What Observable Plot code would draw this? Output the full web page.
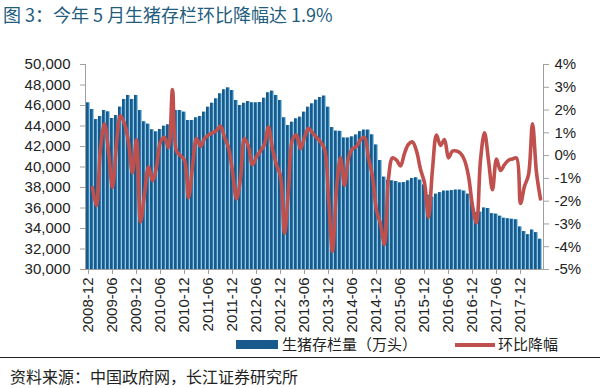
<!DOCTYPE html>
<html>
<head>
<meta charset="utf-8">
<script src="https://cdn.jsdelivr.net/npm/d3@7"></script>
<script src="https://cdn.jsdelivr.net/npm/@observablehq/plot@0.6"></script>
<style>
  html, body { margin: 0; padding: 0; background: #fff; }
  #wrap { position: relative; width: 600px; height: 388px; overflow: hidden; font-family: "Liberation Sans", Arial, "Noto Sans CJK SC", sans-serif; }
  #title { position: absolute; left: 3px; top: 2px; font-size: 18px; color: #235d7e; font-family: "Noto Sans CJK SC", sans-serif; white-space: nowrap; line-height: 24px; }
  #chart { position: absolute; left: 0; top: 30px; }
  .leg { position: absolute; font-size: 15px; color: #222; font-family: "Noto Sans CJK SC", sans-serif; white-space: nowrap; line-height: 18px; }
  #rule { position: absolute; left: 0; top: 357px; width: 600px; height: 1px; background: #222; }
  #source { position: absolute; left: 10px; top: 366px; font-size: 16px; color: #222; font-family: "Noto Sans CJK SC", sans-serif; white-space: nowrap; line-height: 20px; }
</style>
</head>
<body>
<div id="wrap">
  <div id="title">图 3：今年 5 月生猪存栏环比降幅达 1.9%</div>
  <div id="chart"></div>
  <div class="leg" style="left:236px; top:340px; width:42px; height:9px; background:#195a8c;"></div>
  <div class="leg" style="left:282px; top:335px;">生猪存栏量（万头）</div>
  <div class="leg" style="left:455px; top:343px; width:40px; height:4px; background:#c0504d;"></div>
  <div class="leg" style="left:498px; top:335px;">环比降幅</div>
  <div id="rule"></div>
  <div id="source">资料来源：中国政府网，长江证券研究所</div>
</div>
<script>
// Categories: monthly, 2008-12 … 2018-05
const months = d3.utcMonth.range(new Date(Date.UTC(2008, 11, 1)), new Date(Date.UTC(2018, 5, 1))).map(d3.utcFormat("%Y-%m"));

// 生猪存栏量（万头）, 2008-12 … 2018-05
const stock = [
  46260, 45610, 44630, 44930, 45510, 45380, 44730, 45020, 45840, 46590, 46980, 46590,
  46980, 45510, 44410, 44180, 43630, 43430, 43660, 43980, 44110, 45400, 45510, 45510,
  45350, 44540, 44540, 44800, 44930, 45350, 45830, 46220, 46650, 47140, 47530, 47720,
  47460, 46490, 46000, 46220, 46390, 46260, 46260, 46290, 46710, 47240, 47400, 46980,
  46490, 44800, 44050, 44370, 44700, 44860, 45350, 45830, 46160, 46520, 46780, 46920,
  45830, 43850, 43500, 43480, 42830, 42830, 42940, 43120, 43450, 43600, 43600, 43140,
  42150, 40630, 39010, 38700, 38650, 38580, 38450, 38480, 38650, 38880, 38950, 38720,
  38250, 37250, 37050, 37350, 37500, 37650, 37650, 37700, 37750, 37750, 37650, 37350,
  36550, 35550, 35600, 36000, 35950, 35450, 35400, 35200, 35000, 34950, 34900, 34850,
  34150, 33700, 33400, 33850, 33600, 32950
];

// 环比降幅 (%), 2009-01 … 2018-05
const momChange = [
  -1.4, -2.2, 0.3, 1.4, 0.2, -1.4, 0.5, 1.75, 1.4, 0.6, -0.75,
  0.7, -2.9, -1.7, -0.5, -1.1, -0.5, 0.6, 0.8, 0.35, 2.9, 0.2, 0.0,
  -0.2, -1.85, -0.5, 0.75, 0.4, 0.75, 0.9, 1.0, 1.1, 1.3, 0.8, 0.35,
  -0.7, -1.9, -1.0, 0.75, 0.4, -0.4, -0.05, 0.2, 0.5, 1.25, 0.3, -0.4,
  -0.9, -3.4, -1.5, 0.7, 0.9, 0.3, 0.8, 1.2, 1.0, 0.8, 0.6, 0.3,
  -1.8, -4.2, -1.5, -0.1, -1.3, -0.1, 0.3, 0.4, 0.7, 0.8, -0.1, -0.9,
  -2.4, -3.0, -3.9, -1.0, -0.1, -0.2, -0.45, 0.1, 0.5, 0.6, 0.2, -0.6,
  -1.2, -2.7, -0.6, 0.9, 0.45, 0.7, -0.1, 0.2, 0.2, 0.1, -0.2, -0.9,
  -2.2, -2.95, -0.2, 1.0, -0.2, -1.5, -0.15, -0.65, -0.4, -0.2, -0.15, -0.1,
  -2.1, -1.35, -0.85, 1.4, -0.75, -1.9
];

const xTickLabels = ["2008-12","2009-06","2009-12","2010-06","2010-12","2011-06","2011-12","2012-06","2012-12","2013-06","2013-12","2014-06","2014-12","2015-06","2015-12","2016-06","2016-12","2017-06","2017-12"];
const leftTicks = [30000, 32000, 34000, 36000, 38000, 40000, 42000, 44000, 46000, 48000, 50000];
const rightTicks = [-5, -4, -3, -2, -1, 0, 1, 2, 3, 4];

const yMin = 30000, yMax = 50000, pMin = -5, pMax = 4;
const toLeft = p => yMin + (p - pMin) * (yMax - yMin) / (pMax - pMin);
const fromLeft = v => pMin + (v - yMin) * (pMax - pMin) / (yMax - yMin);

const bars = months.map((m, i) => ({month: m, stock: stock[i]}));
const line = months.slice(1).map((m, i) => ({month: m, pct: momChange[i]}));

const axisColor = "#a0a0a0";
const chart = Plot.plot({
  width: 600,
  height: 310,
  marginLeft: 85,
  marginRight: 57,
  marginTop: 34,
  marginBottom: 71,
  style: {fontFamily: '"Liberation Sans", Arial, sans-serif', color: "#222", background: "transparent"},
  x: {type: "band", domain: months, paddingInner: 0.12, paddingOuter: 0.1, axis: null},
  y: {domain: [yMin, yMax], axis: null},
  marks: [
    Plot.barY(bars, {x: "month", y1: yMin, y2: "stock", fill: "#8cc9ea"}),
    Plot.barY(bars, {x: "month", y1: yMin, y2: "stock", fill: "#195a8c", insetRight: 1.3}),
    Plot.line(line, {x: "month", y: d => toLeft(d.pct), stroke: "#c0504d", strokeWidth: 3.6, curve: "catmull-rom", strokeLinejoin: "round"}),
    Plot.frame({anchor: "left", stroke: axisColor}),
    Plot.frame({anchor: "right", stroke: axisColor}),
    Plot.frame({anchor: "bottom", stroke: axisColor}),
    Plot.axisY({anchor: "left", label: null, ticks: leftTicks, tickFormat: d3.format(","), tickSize: 5, tickPadding: 10, fontSize: 15, stroke: axisColor, fill: "#222"}),
    Plot.axisY({anchor: "right", label: null, ticks: rightTicks.map(toLeft), tickFormat: v => Math.round(fromLeft(v)) + "%", tickSize: 5, tickPadding: 6, fontSize: 15, stroke: axisColor, fill: "#222"}),
    Plot.axisX({label: null, ticks: xTickLabels, tickRotate: -90, tickSize: 5, tickPadding: 3, fontSize: 15, stroke: axisColor, fill: "#222"})
  ]
});
document.getElementById("chart").appendChild(chart);
</script>
</body>
</html>
